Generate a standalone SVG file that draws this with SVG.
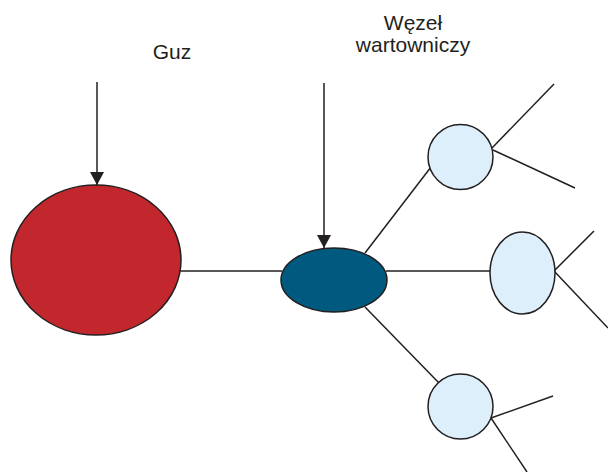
<svg xmlns="http://www.w3.org/2000/svg" width="608" height="472" viewBox="0 0 608 472">
  <style>
    .edge { stroke: #231F20; stroke-width: 1.5; fill: none; }
    .node { stroke: #231F20; stroke-width: 1.5; }
    .label { font-family: "Liberation Sans", Arial, sans-serif; font-size: 21px; fill: #231F20; text-anchor: middle; }
  </style>
  <defs>
    <marker id="arrow" markerWidth="14" markerHeight="14" refX="13" refY="7" orient="auto" markerUnits="userSpaceOnUse">
      <path d="M0,0 L13,7 L0,14 Z" fill="#231F20"/>
    </marker>
  </defs>

  <g id="connectors">
    <line class="edge" x1="180" y1="271" x2="282" y2="271"/>
    <line class="edge" x1="386" y1="271" x2="490" y2="271"/>
    <line class="edge" x1="365" y1="253" x2="431" y2="167"/>
    <line class="edge" x1="365" y1="307" x2="439" y2="383"/>
    <line class="edge" x1="492" y1="148" x2="554" y2="84"/>
    <line class="edge" x1="493" y1="150" x2="575" y2="188"/>
    <line class="edge" x1="554" y1="271" x2="594" y2="231"/>
    <line class="edge" x1="554" y1="271" x2="608" y2="328"/>
    <line class="edge" x1="491" y1="418" x2="553" y2="396"/>
    <line class="edge" x1="491" y1="418" x2="527" y2="472"/>
    <line class="edge" x1="97" y1="82" x2="97" y2="185" marker-end="url(#arrow)"/>
    <line class="edge" x1="324" y1="83" x2="324" y2="248" marker-end="url(#arrow)"/>
  </g>

  <g id="tumor">
    <ellipse class="node" cx="96" cy="260" rx="85" ry="75" fill="#C1272D"/>
    <text class="label" x="172" y="59">Guz</text>
  </g>

  <g id="sentinel-node">
    <ellipse class="node" cx="334" cy="280" rx="53" ry="32" fill="#005A7F"/>
    <text class="label" x="413" y="30">Węzeł</text>
    <text class="label" x="413" y="52">wartowniczy</text>
  </g>

  <g id="node-upper">
    <circle class="node" cx="460.5" cy="157" r="32.5" fill="#DCEFFB"/>
  </g>

  <g id="node-middle">
    <ellipse class="node" cx="522.5" cy="273" rx="32.5" ry="41" fill="#DCEFFB"/>
  </g>

  <g id="node-lower">
    <circle class="node" cx="460.5" cy="406.5" r="32.5" fill="#DCEFFB"/>
  </g>
</svg>
